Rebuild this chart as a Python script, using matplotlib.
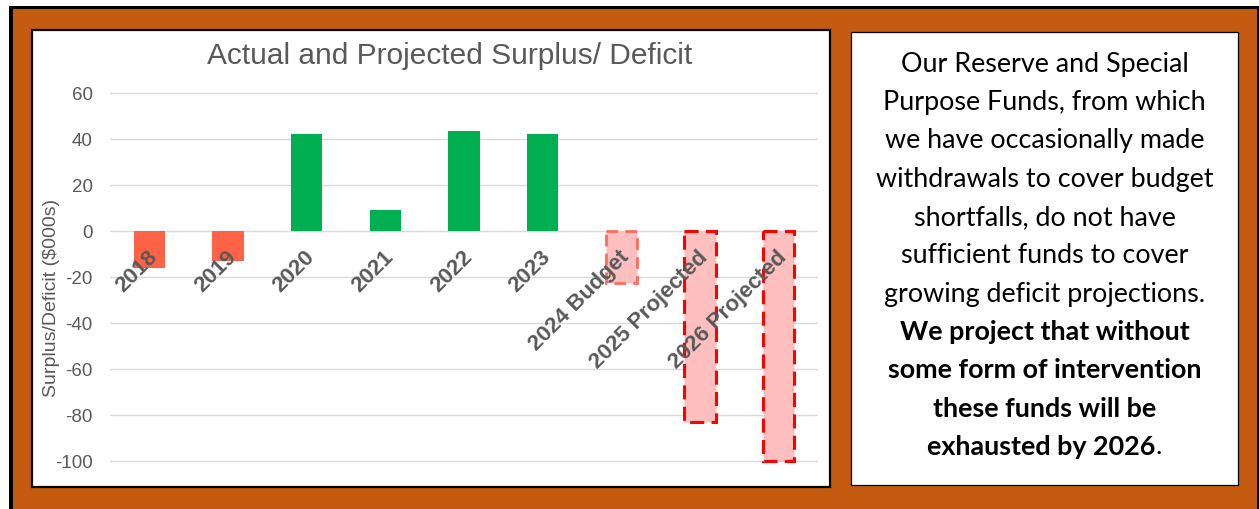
import matplotlib
matplotlib.use("Agg")
import matplotlib.pyplot as plt
from matplotlib.patches import Rectangle

# values ($000s)
categories = ["2018", "2019", "2020", "2021", "2022", "2023",
              "2024 Budget", "2025 Projected", "2026 Projected"]
values = [-16, -13, 42.3, 9, 43.3, 42.3, -22.6, -83, -100]
kind = ["actual", "actual", "actual", "actual", "actual", "actual",
        "budget", "projected", "projected"]
yticks = [60, 40, 20, 0, -20, -40, -60, -80, -100]

panel_lines = [
    ("Our Reserve and Special", "normal"),
    ("Purpose Funds, from which", "normal"),
    ("we have occasionally made", "normal"),
    ("withdrawals to cover budget", "normal"),
    ("shortfalls, do not have", "normal"),
    ("sufficient funds to cover", "normal"),
    ("growing deficit projections.", "normal"),
    ("We project that without", "bold"),
    ("some form of intervention", "bold"),
    ("these funds will be", "bold"),
]
last_bold = "exhausted by 2026"
last_tail = "."

W, H = 1259, 510
ORANGE = "#C55A11"
GREY = "#595959"

plt.rcParams["font.family"] = ["Liberation Sans", "DejaVu Sans"]
fig = plt.figure(figsize=(W / 100, H / 100), dpi=100, facecolor="white")


def px(x, y):
    # pixel (from top-left) -> figure fraction
    return x / W, 1 - y / H


def box(x0, y0, x1, y1, **kw):
    fig.patches.append(Rectangle(px(x0, y1), (x1 - x0) / W, (y1 - y0) / H,
                                 transform=fig.transFigure, zorder=-5, **kw))


# frame
box(9, 7, 1262, 515, facecolor="black", edgecolor="none")
box(13, 10, 1257, 515, facecolor=ORANGE, edgecolor="none")
box(32, 31, 830, 488, facecolor="white", edgecolor="black", linewidth=1.6)
box(851, 33, 1238, 486, facecolor="white", edgecolor="black", linewidth=0.9)

# chart axes
top_px, bot_px = 89.4, 471.2
ax = fig.add_axes([110 / W, 1 - bot_px / H, 708 / W, (bot_px - top_px) / H])
ax.set_zorder(5)
ax.set_facecolor("none")
ax.set_xlim(-0.5, len(categories) - 0.5)
ax.set_ylim(-104, 62)

x = list(range(len(categories)))
for xi, v, k in zip(x, values, kind):
    if k == "actual":
        ax.bar(xi, v, width=0.4, color="#00B050" if v > 0 else "#FF6347", zorder=2)
    elif k == "budget":
        ax.bar(xi, v, width=0.4, facecolor="#FFBFBF", edgecolor="#FF6B5B",
               linewidth=2.0, linestyle=(0, (4.2, 2.6)), zorder=2)
    else:
        ax.bar(xi, v, width=0.4, facecolor="#FFBFBF", edgecolor="#FF0000",
               linewidth=2.2, linestyle=(0, (4.6, 2.4)), zorder=2)

ax.set_yticks(yticks)
ax.set_yticklabels([str(t) for t in yticks], color=GREY, fontsize=13.5)
ax.tick_params(axis="y", length=0, pad=12.5)
ax.set_xticks([])
ax.grid(axis="y", color="#D9D9D9", linewidth=1.0, zorder=0)
ax.set_axisbelow(True)
for s in ax.spines.values():
    s.set_visible(False)

for xi, lbl in zip(x, categories):
    ax.annotate(lbl, (xi, 0), xytext=(5, -22), textcoords="offset pixels",
                rotation=45, rotation_mode="anchor", ha="right", va="center",
                fontsize=16, fontweight="bold", color=GREY, zorder=3,
                annotation_clip=False)

fig.text(*px(450, 56), "Actual and Projected Surplus/ Deficit", ha="center",
         va="center", fontsize=21.5, color=GREY)
fig.text(*px(51.7, 298), "Surplus/Deficit ($000s)", ha="center", va="center",
         rotation=90, fontsize=14, color=GREY)

# side text panel
cx = 1044.5
fs = 19.4
for i, (line, w) in enumerate(panel_lines):
    fig.text(*px(cx, 71.7 + i * 38.35), line, ha="center", va="baseline",
             fontsize=fs, fontweight=w, family="Lato", color="black")
t = fig.text(*px(cx - 3, 71.7 + 10 * 38.35), last_bold, ha="center",
             va="baseline", fontsize=fs, fontweight="bold", family="Lato",
             color="black")
ax.annotate(last_tail, xy=(1, 0), xycoords=t, ha="left", va="bottom",
            fontsize=fs, family="Lato", color="black",
            annotation_clip=False)

fig.savefig("out.png", dpi=100, facecolor="white")
